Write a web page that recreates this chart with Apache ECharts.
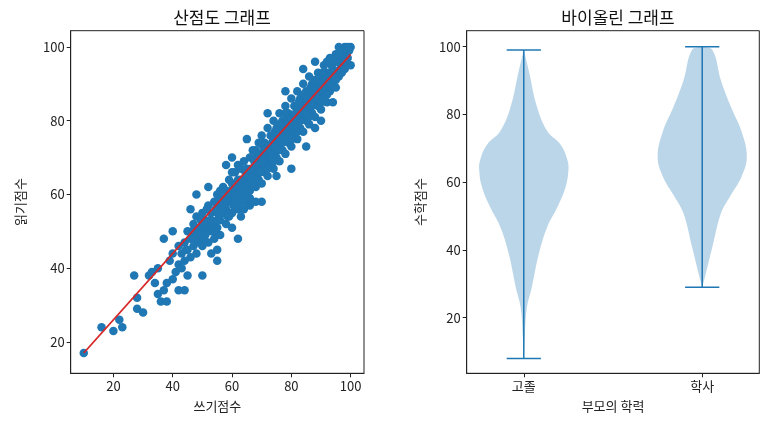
<!DOCTYPE html>
<html>
<head>
<meta charset="utf-8">
<script src="https://cdn.jsdelivr.net/npm/echarts@6/dist/echarts.min.js"></script>
<style>html,body{margin:0;padding:0;background:#fff}#chart{width:768px;height:426px}</style>
</head>
<body>
<div id="chart"></div>
<script>
// scatter: 쓰기점수 vs 읽기점수
var scatterPairs = [
[10,17],[16,24],[20,23],[22,26],[23,24],[27,38],[28,32],[28,29],[30,28],[32,38],[33,39],[34,36],[35,40],[35,33],[36,31],[37,34],[38,31],[38,36],[39,42],[40,37],[40,44],[41,39],[42,41],[42,46],[43,44],[43,40],[44,47],[44,42],[45,45],[45,50],[46,43],[46,48],[47,46],[47,52],[48,44],[48,49],[48,54],[49,47],[49,51],[50,46],[50,50],[50,55],[51,49],[51,53],[52,47],[52,51],[52,57],[53,50],[53,55],[54,52],[54,48],[54,58],[55,51],[55,55],[55,60],[56,53],[56,57],[56,49],[57,55],[57,59],[57,62],[58,52],[58,56],[58,61],[59,54],[59,58],[59,64],[60,55],[60,59],[60,63],[60,51],[61,57],[61,61],[61,66],[62,56],[62,60],[62,64],[63,58],[63,62],[63,67],[63,54],[64,60],[64,64],[64,69],[65,59],[65,63],[65,67],[66,61],[66,65],[66,70],[66,57],[67,63],[67,67],[67,72],[68,62],[68,66],[68,70],[69,64],[69,68],[69,74],[70,63],[70,67],[70,71],[70,76],[71,66],[71,70],[71,74],[72,65],[72,69],[72,73],[72,78],[73,68],[73,72],[73,76],[74,67],[74,71],[74,75],[74,80],[75,70],[75,74],[75,78],[76,69],[76,73],[76,77],[76,82],[77,72],[77,76],[77,80],[78,71],[78,75],[78,79],[78,84],[79,74],[79,78],[79,82],[80,73],[80,77],[80,81],[80,86],[81,76],[81,80],[81,84],[82,75],[82,79],[82,83],[82,88],[83,78],[83,82],[83,86],[84,77],[84,81],[84,85],[84,90],[85,80],[85,84],[85,88],[86,79],[86,83],[86,87],[86,92],[87,82],[87,86],[87,90],[88,81],[88,85],[88,89],[89,84],[89,88],[89,93],[90,83],[90,87],[90,91],[91,86],[91,90],[91,95],[92,85],[92,89],[92,93],[93,88],[93,92],[93,97],[94,90],[94,94],[95,89],[95,93],[95,98],[96,92],[96,96],[97,95],[97,99],[98,94],[98,100],[99,97],[100,100],[100,95],[99,100],[96,100],[50,38],[48,60],[55,45],[60,70],[65,75],[62,48],[70,58],[75,65],[80,67],[85,73],[88,78],[90,80],[92,96],[94,85],[45,38],[40,50],[58,68],[44,34],[42,34],[37,48],[52,62],[55,42],[64,56],[68,58],[72,82],[78,88],[84,94],[88,96],[46,56],[53,44]
];
// extra points filling the dense band
var scatterPairs2 = [
[44.5,45],[46.5,50],[47.5,48],[49.5,53],[50.5,48],[51.5,56],[52.5,53],[53.5,52],[54.5,56],[55.5,58],[56.5,55],[57.5,57],[58.5,59],[59.5,61],[60.5,57],[61.5,63],[62.5,62],[63.5,60],[64.5,66],[65.5,65],[66.5,63],[67.5,69],[68.5,68],[69.5,66],[70.5,73],[71.5,72],[72.5,71],[73.5,74],[74.5,77],[75.5,72],[76.5,75],[77.5,78],[78.5,77],[79.5,80],[80.5,79],[81.5,82],[82.5,81],[83.5,84],[84.5,83],[85.5,86],[86.5,85],[87.5,88],[88.5,87],[89.5,90],[90.5,89],[91.5,92],[92.5,91],[93.5,95],[94.5,92],[95.5,96],[96.5,94],[97.5,97],[98.5,98],[99.5,99],
[47,50],[49,49],[51,51],[53,53],[55,53],[57,57],[59,60],[61,59],[63,64],[65,61],[67,65],[69,70],[71,68],[73,70],[75,76],[77,74],[79,76],[81,78],[83,80],[85,82],[87,84],[89,86],[91,88],[93,90],[95,91],[97,93],
[50.5,52],[54.5,50],[58.5,54],[62.5,58],[66.5,67],[70.5,69],[74.5,73],[78.5,81],[82.5,85],[86.5,89],[90.5,93],[94.5,96],[98.5,96],
[56,61],[60,66],[64,58],[68,72],[72,67],[76,79],[80,75],[84,87],[88,91],[92,87],[96,98],[62,68],[66,59],[70,74],[74,69],[78,82],[82,77],[86,81],[90,85]
];
var fitLine = [[10,17],[100,98]];

// violin: 수학점수 by 부모의 학력
var violinCats = ['고졸', '학사'];
var violinY = [
  [99,93,82,75,71,66.5,63.6,58.7,52.8,46.9,39,29,23,14,8],
  [100,99,90,82,75,67.5,61.6,55.7,50.8,41,33,29]
];
var violinW = [
  [0,0.11,0.3,0.53,0.83,0.98,1.0,0.94,0.76,0.53,0.34,0.18,0.07,0.02,0],
  [0,0.23,0.42,0.65,0.88,1.0,0.88,0.62,0.42,0.23,0.08,0]
];
var violinMin = [8, 29];
var violinMax = [99, 100];

var blue = '#1f77b4';
var font = '"Noto Sans CJK KR", sans-serif';
var chart = echarts.init(document.getElementById('chart'));

function axisCommon(name, gap) {
  return {
    name: name, nameLocation: 'middle', nameGap: gap,
    nameTextStyle: {fontFamily: font, fontSize: 13, color: '#222'},
    axisLine: {show: true, lineStyle: {color: '#222'}},
    axisTick: {show: true, length: 4, lineStyle: {color: '#222'}},
    axisLabel: {fontFamily: font, fontSize: 13, color: '#222', margin: 6},
    splitLine: {show: false}
  };
}

var xl = axisCommon('쓰기점수', 26);
xl.type = 'value'; xl.gridIndex = 0; xl.min = 5.6; xl.max = 104.5;
xl.axisTick.customValues = [20,40,60,80,100];
xl.axisLabel.customValues = [20,40,60,80,100];
var yl = axisCommon('읽기점수', 44);
yl.type = 'value'; yl.gridIndex = 0; yl.min = 11.5; yl.max = 104.4;
yl.axisTick.customValues = [20,40,60,80,100];
yl.axisLabel.customValues = [20,40,60,80,100];

var xr = axisCommon('부모의 학력', 26);
xr.type = 'value'; xr.gridIndex = 1; xr.min = 0.68; xr.max = 2.32;
xr.axisTick.customValues = [1,2];
xr.axisLabel.customValues = [1,2];
xr.axisLabel.formatter = function (v) { return violinCats[Math.round(v) - 1] || ''; };
var yr = axisCommon('수학점수', 40);
yr.type = 'value'; yr.gridIndex = 1; yr.min = 3.6; yr.max = 104.7;
yr.axisTick.customValues = [20,40,60,80,100];
yr.axisLabel.customValues = [20,40,60,80,100];

var option = {
  animation: false,
  title: [
    {text: '산점도 그래프', left: 217, top: 4, textAlign: 'center', textStyle: {fontFamily: font, fontSize: 17, fontWeight: 'normal', color: '#111'}},
    {text: '바이올린 그래프', left: 613, top: 4, textAlign: 'center', textStyle: {fontFamily: font, fontSize: 17, fontWeight: 'normal', color: '#111'}}
  ],
  grid: [
    {left: 70.7, top: 30.7, width: 293.3, height: 342.6, show: true, borderColor: '#222', borderWidth: 1},
    {left: 466.7, top: 30.7, width: 292.6, height: 342.6, show: true, borderColor: '#222', borderWidth: 1}
  ],
  xAxis: [xl, xr],
  yAxis: [yl, yr],
  series: [
    {type: 'scatter', xAxisIndex: 0, yAxisIndex: 0, data: scatterPairs.concat(scatterPairs2), symbolSize: 8.5,
     itemStyle: {color: blue, opacity: 1}},
    {type: 'line', xAxisIndex: 0, yAxisIndex: 0, data: fitLine, showSymbol: false,
     lineStyle: {color: '#d62728', width: 1.8}},
    {type: 'custom', xAxisIndex: 1, yAxisIndex: 1, data: [[1],[2]],
     renderItem: function (params, api) {
       var i = params.dataIndex, pos = i + 1, half = 0.25;
       var ys = violinY[i], ws = violinW[i];
       var pts = [];
       for (var k = 0; k < ys.length; k++) pts.push(api.coord([pos + ws[k] * half, ys[k]]));
       for (var k = ys.length - 1; k >= 0; k--) pts.push(api.coord([pos - ws[k] * half, ys[k]]));
       var top = api.coord([pos, violinMax[i]]), bot = api.coord([pos, violinMin[i]]);
       var cw = api.coord([pos + 0.096, 0])[0] - top[0];
       var ls = {stroke: blue, lineWidth: 1.5};
       return {type: 'group', children: [
         {type: 'polygon', shape: {points: pts, smooth: 0.4}, style: {fill: 'rgba(31,119,180,0.3)'}},
         {type: 'line', shape: {x1: top[0], y1: top[1], x2: bot[0], y2: bot[1]}, style: ls},
         {type: 'line', shape: {x1: top[0] - cw, y1: top[1], x2: top[0] + cw, y2: top[1]}, style: ls},
         {type: 'line', shape: {x1: bot[0] - cw, y1: bot[1], x2: bot[0] + cw, y2: bot[1]}, style: ls}
       ]};
     }}
  ]
};
chart.setOption(option);
</script>
</body>
</html>
